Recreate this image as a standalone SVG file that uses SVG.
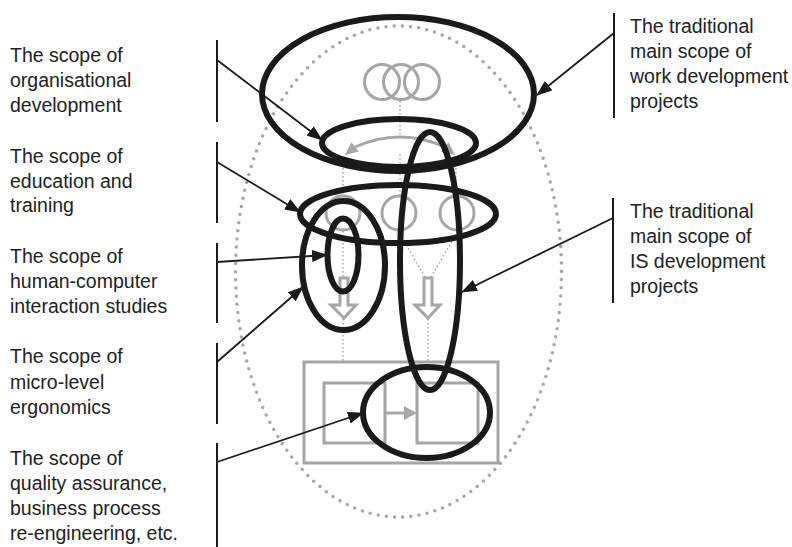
<svg xmlns="http://www.w3.org/2000/svg" width="792" height="547" viewBox="0 0 792 547">
<style>
.bk{fill:none;stroke:#1a1a1a;stroke-width:6}
.gr{fill:none;stroke:#a6a6a6;stroke-width:3}
.grf{fill:#a6a6a6;stroke:none}
.dot{fill:none;stroke:#a6a6a6;stroke-width:1.5;stroke-dasharray:1.5 2.5}
.bigdot{fill:none;stroke:#a6a6a6;stroke-width:3.5;stroke-linecap:round;stroke-dasharray:0 8.2}
.bar{stroke:#1a1a1a;stroke-width:2;fill:none}
.ld{stroke:#1a1a1a;stroke-width:1.8;fill:none;marker-end:url(#ah)}
text{font-family:"Liberation Sans",Arial,sans-serif;font-size:19.5px;fill:#222}
</style>
<defs>
<marker id="ah" markerUnits="userSpaceOnUse" markerWidth="16" markerHeight="12" refX="15" refY="6" orient="auto">
<path d="M0,0 L16,6 L0,12 Z" fill="#1a1a1a"/>
</marker>
</defs>
<rect width="792" height="547" fill="#fff"/>
<g id="background">
<ellipse class="bigdot" cx="398.5" cy="271.5" rx="163" ry="245.5"/>
</g>
<g id="connectors-gray">
<line class="dot" x1="400" y1="101" x2="400" y2="134"/>
<line class="dot" x1="400" y1="154" x2="400" y2="195"/>
<line class="dot" x1="343" y1="160" x2="343" y2="195"/>
<line class="dot" x1="456" y1="160" x2="456" y2="195"/>
<line class="dot" x1="343" y1="231" x2="343" y2="278"/>
<line class="dot" x1="398" y1="231" x2="425" y2="277"/>
<line class="dot" x1="458" y1="231" x2="431" y2="277"/>
<line class="dot" x1="343" y1="319" x2="343" y2="361"/>
<line class="dot" x1="428" y1="319" x2="428" y2="361"/>
<path class="gr" d="M355,147 Q400,127 445,147"/>
<polygon class="grf" points="345,155 358.8,151.6 351.4,142.2"/>
<polygon class="grf" points="455,155 441.2,151.6 448.6,142.2"/>
</g>
<g id="top-circles">
<circle class="gr" cx="382" cy="82" r="17.5"/>
<circle class="gr" cx="401" cy="82" r="17.5"/>
<circle class="gr" cx="422" cy="82" r="17.5"/>
</g>
<g id="row-circles">
<circle class="gr" cx="343" cy="213" r="17"/>
<circle class="gr" cx="399" cy="213" r="17"/>
<circle class="gr" cx="457" cy="213" r="17"/>
</g>
<g id="hollow-arrows">
<path class="gr" d="M340,278 L348,278 L348,305 L356,305 L344,318 L331,305 L340,305 Z"/>
<path class="gr" d="M424,278 L432,278 L432,305 L440,305 L428,318 L415,305 L424,305 Z"/>
</g>
<g id="process-box">
<rect class="gr" x="304" y="362" width="194" height="101"/>
<rect class="gr" x="324" y="383" width="61" height="60"/>
<rect class="gr" x="417" y="383" width="61" height="60"/>
<line class="gr" x1="385" y1="413" x2="405" y2="413"/>
<polygon class="grf" points="404,406 417,413 404,420"/>
</g>
<g id="scope-work"><ellipse class="bk" cx="398" cy="94" rx="136" ry="77"/></g>
<g id="scope-org"><ellipse class="bk" cx="399" cy="143" rx="77" ry="24"/></g>
<g id="scope-edu"><ellipse class="bk" cx="398" cy="214" rx="98" ry="29"/></g>
<g id="scope-ergo"><ellipse class="bk" cx="343.5" cy="265.5" rx="41.5" ry="64.5"/></g>
<g id="scope-hci"><ellipse class="bk" cx="343" cy="255" rx="15.5" ry="36.5"/></g>
<g id="scope-is"><ellipse class="bk" cx="430" cy="261" rx="30" ry="129"/></g>
<g id="scope-qa"><ellipse class="bk" cx="426.5" cy="412.5" rx="63.5" ry="45.5"/></g>
<g id="brackets">
<line class="bar" x1="217" y1="40" x2="217" y2="122"/>
<line class="bar" x1="217" y1="142" x2="217" y2="223"/>
<line class="bar" x1="217" y1="243" x2="217" y2="323"/>
<line class="bar" x1="217" y1="343" x2="217" y2="424"/>
<line class="bar" x1="217" y1="443" x2="217" y2="547"/>
<line class="bar" x1="614" y1="13" x2="614" y2="118"/>
<line class="bar" x1="613" y1="198" x2="613" y2="303"/>
</g>
<g id="leaders">
<line class="ld" x1="217" y1="60" x2="322" y2="140"/>
<line class="ld" x1="217" y1="162" x2="300" y2="212"/>
<line class="ld" x1="217" y1="262" x2="327" y2="255"/>
<line class="ld" x1="217" y1="362" x2="303" y2="287"/>
<line class="ld" x1="217" y1="462" x2="363" y2="413"/>
<line class="ld" x1="614" y1="33" x2="537" y2="95"/>
<line class="ld" x1="613" y1="218" x2="462" y2="292"/>
</g>
<g id="labels-left">
<text x="10" y="62">The scope of</text>
<text x="10" y="87">organisational</text>
<text x="10" y="112">development</text>
<text x="10" y="163">The scope of</text>
<text x="10" y="188">education and</text>
<text x="10" y="212">training</text>
<text x="10" y="263">The scope of</text>
<text x="10" y="288">human-computer</text>
<text x="10" y="313">interaction studies</text>
<text x="10" y="363">The scope of</text>
<text x="10" y="389">micro-level</text>
<text x="10" y="414">ergonomics</text>
<text x="10" y="465">The scope of</text>
<text x="10" y="490">quality assurance,</text>
<text x="10" y="515">business process</text>
<text x="10" y="540">re-engineering, etc.</text>
</g>
<g id="labels-right">
<text x="630" y="33">The traditional</text>
<text x="630" y="58">main scope of</text>
<text x="630" y="83">work development</text>
<text x="630" y="108">projects</text>
<text x="630" y="218">The traditional</text>
<text x="630" y="243">main scope of</text>
<text x="630" y="268">IS development</text>
<text x="630" y="293">projects</text>
</g>
</svg>
